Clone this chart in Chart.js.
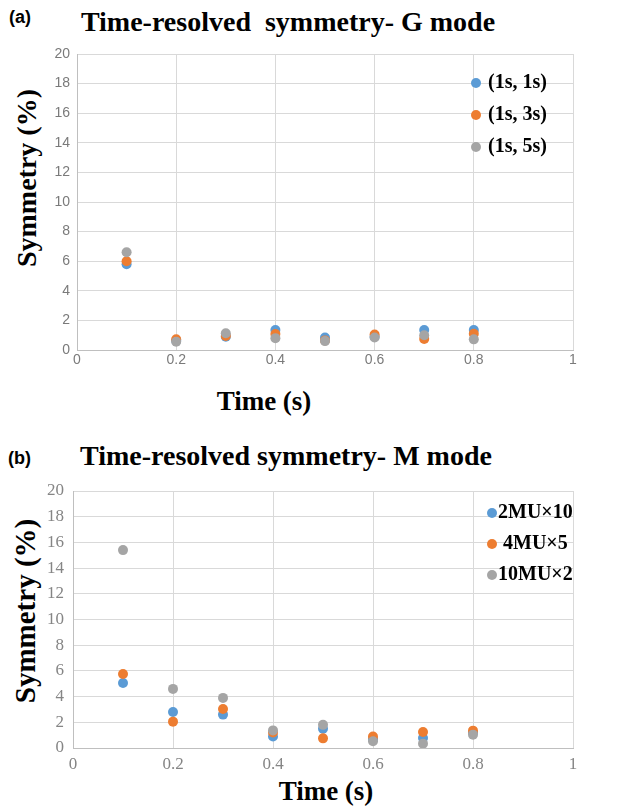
<!DOCTYPE html>
<html>
<head>
<meta charset="utf-8">
<script src="https://cdn.jsdelivr.net/npm/chart.js@4.4.1/dist/chart.umd.min.js"></script>
<style>
body{margin:0;background:#fff;width:617px;height:809px;position:relative;overflow:hidden}
.box{position:absolute;left:0;width:617px}
.t{position:absolute;font-family:"Liberation Serif","Times New Roman",serif;font-weight:bold;color:#000;white-space:pre;line-height:1}
.p{position:absolute;font-family:"Liberation Sans",Arial,sans-serif;font-weight:bold;font-size:18px;line-height:1;color:#000}
</style>
</head>
<body>
<div class="p" style="left:9px;top:8px">(a)</div>
<div class="t" style="left:288px;top:8px;font-size:28px;transform:translateX(-50%)">Time-resolved  symmetry- G mode</div>
<div class="t" style="left:27px;top:178px;font-size:28px;transform:translate(-50%,-50%) rotate(-90deg)">Symmetry (%)</div>
<div class="t" style="left:264px;top:388px;font-size:27px;transform:translateX(-50%)">Time (s)</div>
<div class="box" style="top:0;height:420px"><canvas id="chartG"></canvas></div>

<div class="p" style="left:8px;top:449px">(b)</div>
<div class="t" style="left:286px;top:442px;font-size:28px;transform:translateX(-50%)">Time-resolved symmetry- M mode</div>
<div class="t" style="left:25px;top:611px;font-size:29px;transform:translate(-50%,-50%) rotate(-90deg)">Symmetry (%)</div>
<div class="t" style="left:326px;top:778px;font-size:27px;transform:translateX(-50%)">Time (s)</div>
<div class="box" style="top:420px;height:389px"><canvas id="chartM"></canvas></div>

<script>
// time points (s)
const times = [0.1, 0.2, 0.3, 0.4, 0.5, 0.6, 0.7, 0.8];
const xTicks = [0, 0.2, 0.4, 0.6, 0.8, 1];
const yTicks = [0, 2, 4, 6, 8, 10, 12, 14, 16, 18, 20];
const colors = ["#5b9bd5", "#ed7d31", "#a5a5a5"];

// (a) G mode
const gLabels = ["(1s, 1s)", "(1s, 3s)", "(1s, 5s)"];
const g1s = [5.8, 0.62, 0.9, 1.35, 0.85, 0.9, 1.35, 1.35];
const g3s = [6.0, 0.72, 0.95, 1.08, 0.65, 1.05, 0.75, 1.1];
const g5s = [6.6, 0.56, 1.13, 0.8, 0.6, 0.85, 1.0, 0.72];

// (b) M mode
const mLabels = ["2MU×10", " 4MU×5", "10MU×2"];
const m2x10 = [5.06, 2.8, 2.6, 0.9, 1.5, 0.7, 0.78, 1.2];
const m4x5 = [5.76, 2.05, 3.03, 1.2, 0.75, 0.9, 1.25, 1.35];
const m10x2 = [15.4, 4.6, 3.9, 1.37, 1.8, 0.52, 0.34, 1.04];

//legend drawn inside the plot
const insideLegend = {
  id: "insideLegend",
  afterDatasetsDraw(chart, args, o) {
    const ctx = chart.ctx;
    const a = chart.chartArea;
    ctx.save();
    ctx.font = o.font;
    ctx.textBaseline = "middle";
    chart.data.datasets.forEach((ds, i) => {
      const x = a.right - o.right;
      const y = a.top + o.top + i * o.gap;
      ctx.fillStyle = ds.backgroundColor;
      ctx.beginPath();
      ctx.arc(x, y, 5, 0, Math.PI * 2);
      ctx.fill();
      ctx.fillStyle = "#000";
      ctx.fillText(ds.label, x + o.textGap, y);
    });
    ctx.restore();
  },
};

function makeChart(id, labels, series, s) {
  const datasets = [];
  for (var j = 0; j < series.length; j++) {
    datasets.push({
      label: labels[j],
      data: times.map((t, k) => ({ x: t, y: series[j][k] })),
      backgroundColor: colors[j],
      borderColor: colors[j],
      pointRadius: 5,
      pointBorderWidth: 0,
      order: series.length - j,
    });
  }
  return new Chart(document.getElementById(id), {
    type: "scatter",
    data: { datasets: datasets },
    plugins: [insideLegend],
    options: {
      responsive: true,
      maintainAspectRatio: false,
      animation: false,
      layout: { padding: s.padding },
      plugins: {
        legend: { display: false },
        tooltip: { enabled: false },
        insideLegend: s.legend,
      },
      scales: {
        x: {
          type: "linear",
          min: 0,
          max: 1,
          afterBuildTicks: (sc) => { sc.ticks = xTicks.map((v) => ({ value: v })); },
          afterFit: (sc) => { sc.height = 30; },
          grid: { color: "#d9d9d9", drawTicks: false },
          border: { color: "#bfbfbf" },
          ticks: { font: s.tickFont, color: s.tickColor, padding: s.xPad, maxRotation: 0, callback: (v) => String(v) },
        },
        y: {
          type: "linear",
          min: 0,
          max: 20,
          afterBuildTicks: (sc) => { sc.ticks = yTicks.map((v) => ({ value: v })); },
          afterFit: (sc) => { sc.width = s.yWidth; },
          grid: { color: "#d9d9d9", drawTicks: false },
          border: { color: "#bfbfbf" },
          ticks: { font: s.tickFont, color: s.tickColor, padding: s.yPad, callback: (v) => String(v) },
        },
      },
    },
  });
}

makeChart("chartG", gLabels, [g1s, g3s, g5s], {
  padding: { top: 54, right: 44, bottom: 40, left: 0 },
  yWidth: 77,
  tickFont: { family: "'Liberation Sans', Arial, sans-serif", size: 14 },
  tickColor: "#7a7a7a",
  xPad: 2,
  yPad: 7,
  legend: { right: 97, top: 29, gap: 32, textGap: 12, font: "bold 20px 'Liberation Serif', serif" },
});

makeChart("chartM", mLabels, [m2x10, m4x5, m10x2], {
  padding: { top: 71, right: 44, bottom: 31, left: 0 },
  yWidth: 73,
  tickFont: { family: "'Liberation Serif', 'Times New Roman', serif", size: 17 },
  tickColor: "#858585",
  xPad: 6,
  yPad: 9,
  legend: { right: 81, top: 22, gap: 31, textGap: 6, font: "bold 20px 'Liberation Serif', serif" },
});
</script>
</body>
</html>
